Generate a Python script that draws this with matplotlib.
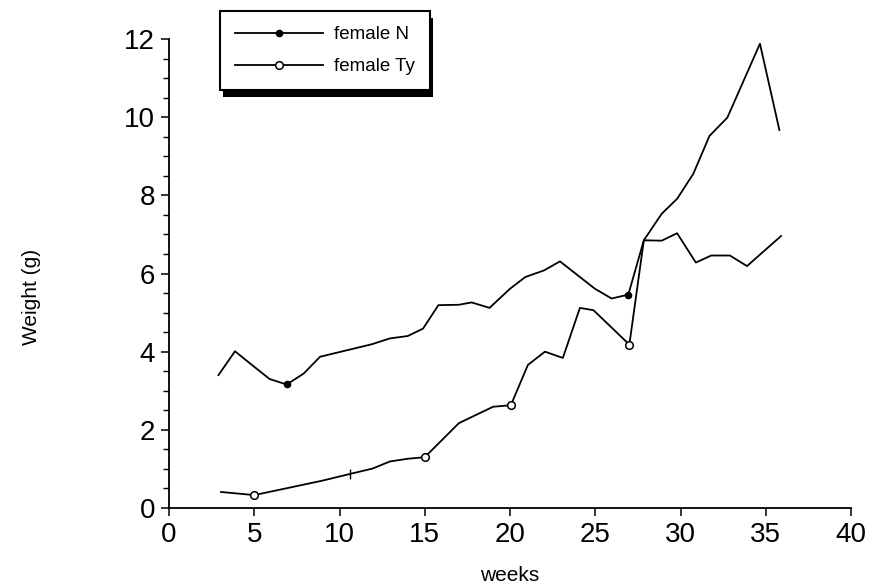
import matplotlib
matplotlib.use("Agg")
import matplotlib.pyplot as plt
from matplotlib.patches import Rectangle
from matplotlib.ticker import MultipleLocator
from matplotlib.transforms import IdentityTransform

plt.rcParams['font.family'] = ['Liberation Sans', 'DejaVu Sans']

# Data
n_weeks = [2.9, 3.87, 4.75, 5.9, 6.9, 7.9, 8.86, 11.9, 12.96, 14.0, 14.9, 15.8,
           17.0, 17.75, 18.8, 20.0, 20.9, 22.0, 22.93, 24.98, 25.96, 26.94,
           27.85, 28.9, 29.8, 30.9, 31.8, 32.9, 33.9, 35.9]
n_weight = [3.40, 4.01, 3.70, 3.30, 3.16, 3.44, 3.87, 4.19, 4.34, 4.40, 4.59, 5.19,
            5.20, 5.26, 5.12, 5.61, 5.91, 6.08, 6.31, 5.61, 5.36, 5.46,
            6.85, 6.84, 7.03, 6.28, 6.46, 6.46, 6.19, 6.96]
n_marker_idx = [4, 21]

ty_weeks = [3.05, 5.0, 9.0, 10.6, 11.95, 12.95, 14.0, 15.0, 17.0, 19.0, 20.05,
            21.05, 22.05, 23.1, 24.1, 24.9, 27.0, 27.85, 28.9, 29.8, 30.75,
            31.7, 32.75, 34.66, 35.8]
ty_weight = [0.41, 0.33, 0.70, 0.87, 1.01, 1.19, 1.26, 1.30, 2.17, 2.59, 2.63,
             3.66, 4.00, 3.84, 5.12, 5.06, 4.18, 6.85, 7.53, 7.91, 8.55,
             9.52, 9.99, 11.88, 9.67]
ty_marker_idx = [1, 7, 10, 16]
ty_tick_idx = [3]

series_labels = ["female N", "female Ty"]

fig = plt.figure(figsize=(8.75, 5.85), dpi=100)
ax = fig.add_axes([169/875, 1 - 508/585, (851-169)/875, (508-39)/585])

lw = 1.3
ax.plot(n_weeks, n_weight, color='black', lw=lw, marker='o', markersize=4.5,
        markerfacecolor='black', markeredgecolor='black',
        markevery=n_marker_idx, label=series_labels[0])
ax.plot(ty_weeks, ty_weight, color='black', lw=lw, marker='o', markersize=5.5,
        markerfacecolor='white', markeredgecolor='black', markeredgewidth=1.1,
        markevery=ty_marker_idx, label=series_labels[1])
ax.plot([ty_weeks[i] for i in ty_tick_idx], [ty_weight[i] for i in ty_tick_idx],
        linestyle='none', marker='|', markersize=7, color='black', mew=1.0)

ax.set_xlim(0, 40)
ax.set_ylim(0, 12)
ax.xaxis.set_major_locator(MultipleLocator(5))
ax.yaxis.set_major_locator(MultipleLocator(2))
ax.yaxis.set_minor_locator(MultipleLocator(0.5))

for s in ['top', 'right']:
    ax.spines[s].set_visible(False)
for s in ['left', 'bottom']:
    ax.spines[s].set_linewidth(1.3)

ax.tick_params(axis='both', which='major', direction='out', length=6, width=1.1,
               labelsize=20, pad=4)
ax.tick_params(axis='y', which='minor', direction='out', length=4, width=1.0)

ax.set_xlabel('weeks', fontsize=15, labelpad=13)
ax.set_ylabel('Weight (g)', fontsize=15)
ax.yaxis.set_label_coords(-0.187, 0.45)

leg = ax.legend(loc='upper left', bbox_to_anchor=(220/875, 1 - 11/585),
                bbox_transform=fig.transFigure, borderaxespad=0,
                fontsize=13.5, handlelength=4.7, handletextpad=0.6,
                labelspacing=0.8, borderpad=0.8, fancybox=False,
                frameon=True, framealpha=1, edgecolor='black')
leg.get_frame().set_linewidth(1.5)
leg.set_zorder(6)

fig.canvas.draw()
bb = leg.get_window_extent(fig.canvas.get_renderer())
shadow = Rectangle((bb.x0 + 3, bb.y0 - 7), bb.width, bb.height,
                   transform=IdentityTransform(), facecolor='black',
                   edgecolor='none', zorder=5.5, clip_on=False)
ax.add_artist(shadow)

fig.savefig('out.png', dpi=100)
